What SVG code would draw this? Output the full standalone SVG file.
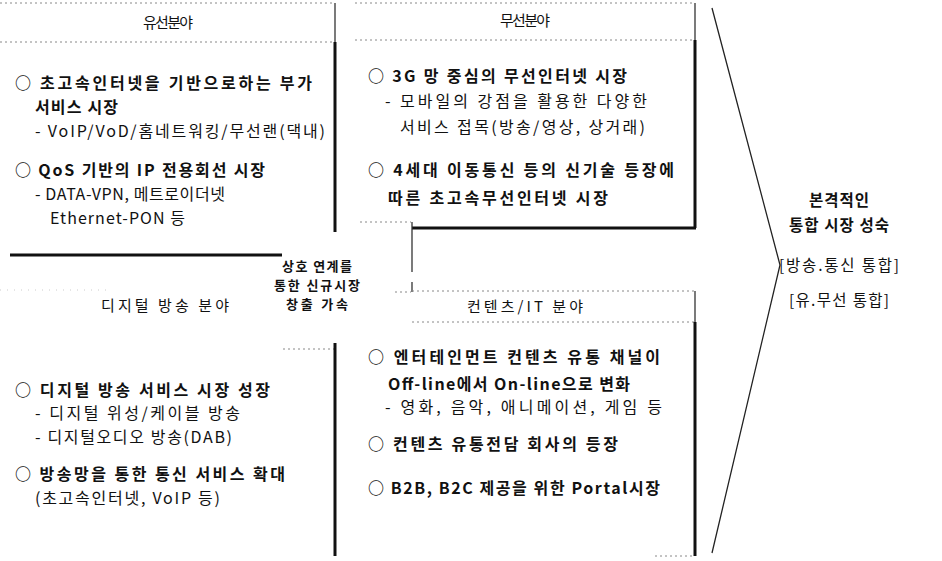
<svg xmlns="http://www.w3.org/2000/svg" width="942" height="561" viewBox="0 0 942 561">
<style>
text{font-family:"Noto Sans CJK KR","Noto Sans",sans-serif;fill:#111;font-size:16px}
.b{font-weight:700}
.h{font-size:15px}
.c{font-size:13px;font-weight:700}
.r{font-size:15.5px}
.dot{stroke:#888;stroke-width:1;stroke-dasharray:2 3;fill:none}
.faint{stroke:#ccc;stroke-width:1;stroke-dasharray:1 6;fill:none}
.thick{stroke:#111;stroke-width:3;fill:none}
.thin{stroke:#333;stroke-width:1.3;fill:none}
.chev{stroke:#222;stroke-width:1.3;fill:none}
</style>
<rect width="942" height="561" fill="#fff"/>
<g id="connectors">
<path class="chev" d="M712 8 L780 265 L712 553"/>
</g>
<g id="wired">
<line class="dot" x1="0" y1="3" x2="334" y2="3"/>
<line class="dot" x1="0" y1="42" x2="334" y2="42"/>
<line class="thin" x1="335" y1="3" x2="335" y2="42"/>
<line class="thick" x1="335" y1="42" x2="335" y2="232"/>
<line class="thick" x1="10" y1="255" x2="282" y2="255"/>
<text class="h" x="168" y="28" text-anchor="middle" textLength="50" lengthAdjust="spacing">유선분야</text>
<text class="b" x="15" y="89" textLength="297" lengthAdjust="spacing">○ 초고속인터넷을 기반으로하는 부가</text>
<text class="b" x="35" y="113" textLength="83" lengthAdjust="spacing">서비스 시장</text>
<text x="35" y="137" textLength="290" lengthAdjust="spacing">- VoIP/VoD/홈네트워킹/무선랜(댁내)</text>
<text class="b" x="15" y="176" textLength="250" lengthAdjust="spacing">○ QoS 기반의 IP 전용회선 시장</text>
<text x="35" y="200" textLength="190" lengthAdjust="spacing">- DATA-VPN, 메트로이더넷</text>
<text x="50" y="224" textLength="135" lengthAdjust="spacing">Ethernet-PON 등</text>
</g>
<g id="wireless">
<line class="dot" x1="355" y1="3" x2="694" y2="3"/>
<line class="dot" x1="355" y1="40" x2="694" y2="40"/>
<line class="thin" x1="695" y1="3" x2="695" y2="40"/>
<line class="thick" x1="695" y1="40" x2="695" y2="228"/>
<line class="thick" x1="412" y1="228" x2="696" y2="228"/>
<text class="h" x="525" y="26" text-anchor="middle" textLength="50" lengthAdjust="spacing">무선분야</text>
<text class="b" x="368" y="82" textLength="259" lengthAdjust="spacing">○ 3G 망 중심의 무선인터넷 시장</text>
<text x="385" y="107" textLength="262" lengthAdjust="spacing">- 모바일의 강점을 활용한 다양한</text>
<text x="400" y="133" textLength="245" lengthAdjust="spacing">서비스 접목(방송/영상, 상거래)</text>
<text class="b" x="368" y="176" textLength="306" lengthAdjust="spacing">○ 4세대 이동통신 등의 신기술 등장에</text>
<text class="b" x="388" y="204" textLength="220" lengthAdjust="spacing">따른 초고속무선인터넷 시장</text>
</g>
<g id="center">
<line class="dot" x1="360" y1="222" x2="411" y2="222"/>
<line class="thin" x1="412" y1="222" x2="412" y2="272"/>
<line class="thin" x1="412" y1="282" x2="412" y2="292"/>
<line class="dot" x1="395" y1="292" x2="411" y2="292"/>
<text class="c" x="317" y="271" text-anchor="middle" textLength="70" lengthAdjust="spacing">상호 연계를</text>
<text class="c" x="317" y="290" text-anchor="middle" textLength="86" lengthAdjust="spacing">통한 신규시장</text>
<text class="c" x="317" y="309" text-anchor="middle" textLength="62" lengthAdjust="spacing">창출 가속</text>
</g>
<g id="broadcast">
<line class="faint" x1="0" y1="290" x2="110" y2="290"/>
<line class="dot" x1="283" y1="349" x2="334" y2="349"/>
<line class="thick" x1="335" y1="343" x2="335" y2="556"/>
<text class="h" x="165" y="311" text-anchor="middle" textLength="128" lengthAdjust="spacing">디지털 방송 분야</text>
<text class="b" x="15" y="396" textLength="255" lengthAdjust="spacing">○ 디지털 방송 서비스 시장 성장</text>
<text x="35" y="419" textLength="205" lengthAdjust="spacing">- 디지털 위성/케이블 방송</text>
<text x="35" y="443" textLength="197" lengthAdjust="spacing">- 디지털오디오 방송(DAB)</text>
<text class="b" x="15" y="480" textLength="270" lengthAdjust="spacing">○ 방송망을 통한 통신 서비스 확대</text>
<text x="35" y="504" textLength="185" lengthAdjust="spacing">(초고속인터넷, VoIP 등)</text>
</g>
<g id="contents">
<line class="dot" x1="412" y1="291" x2="694" y2="291"/>
<line class="dot" x1="412" y1="322" x2="694" y2="322"/>
<line class="thin" x1="695" y1="291" x2="695" y2="322"/>
<line class="thick" x1="695" y1="322" x2="695" y2="556"/>
<line class="dot" x1="655" y1="556" x2="694" y2="556"/>
<text class="h" x="525" y="312" text-anchor="middle" textLength="116" lengthAdjust="spacing">컨텐츠/IT 분야</text>
<text class="b" x="368" y="363" textLength="292" lengthAdjust="spacing">○ 엔터테인먼트 컨텐츠 유통 채널이</text>
<text class="b" x="388" y="390" textLength="242" lengthAdjust="spacing">Off-line에서 On-line으로 변화</text>
<text x="385" y="413" textLength="277" lengthAdjust="spacing">- 영화, 음악, 애니메이션, 게임 등</text>
<text class="b" x="368" y="450" textLength="250" lengthAdjust="spacing">○ 컨텐츠 유통전담 회사의 등장</text>
<text class="b" x="368" y="494" textLength="292" lengthAdjust="spacing">○ B2B, B2C 제공을 위한 Portal시장</text>
</g>
<g id="result">
<text class="b r" x="839" y="206" text-anchor="middle" textLength="60" lengthAdjust="spacing">본격적인</text>
<text class="b r" x="839" y="231" text-anchor="middle" textLength="100" lengthAdjust="spacing">통합 시장 성숙</text>
<text class="r" x="839" y="271" text-anchor="middle" textLength="120" lengthAdjust="spacing">[방송.통신 통합]</text>
<text class="r" x="839" y="306" text-anchor="middle" textLength="100" lengthAdjust="spacing">[유.무선 통합]</text>
</g>
</svg>
